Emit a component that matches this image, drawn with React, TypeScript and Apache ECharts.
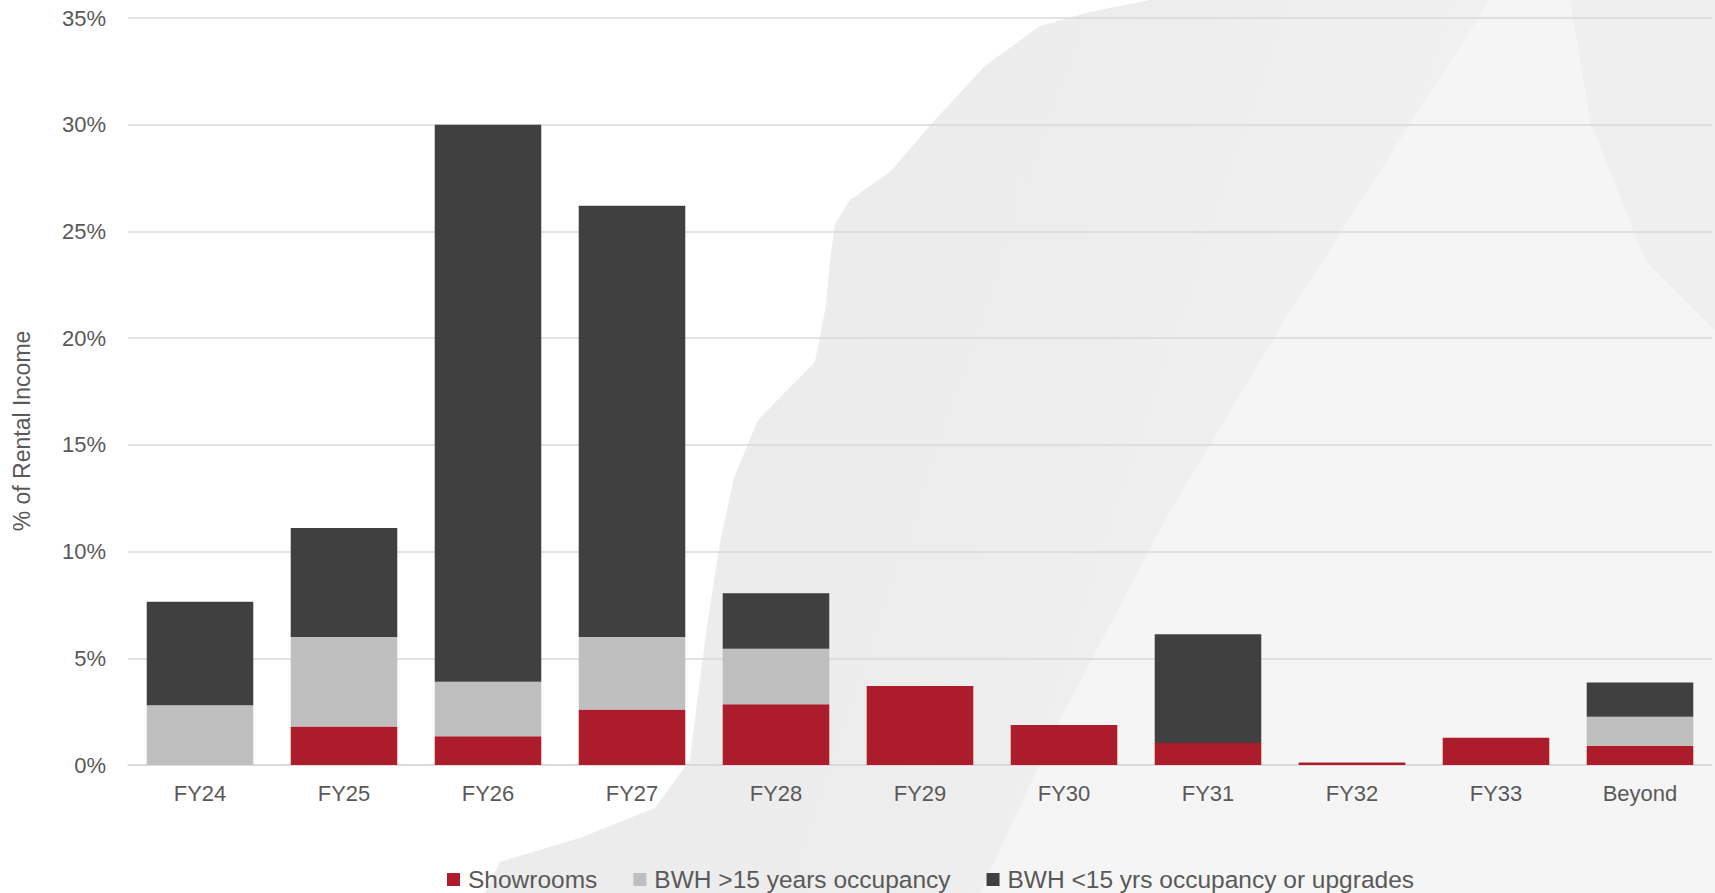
import React, { useEffect, useRef } from "react";
import * as echarts from "echarts";

const categories = ["FY24", "FY25", "FY26", "FY27", "FY28", "FY29", "FY30", "FY31", "FY32", "FY33", "Beyond"];
const showrooms = [0, 1.8, 1.35, 2.6, 2.85, 3.7, 1.87, 1.03, 0.12, 1.28, 0.9];
const bwhOver15 = [2.8, 4.2, 2.55, 3.4, 2.6, 0, 0, 0, 0, 0, 1.36];
const bwhUnder15 = [4.85, 5.1, 26.1, 20.2, 2.6, 0, 0, 5.1, 0, 0, 1.61];
const seriesNames = ["Showrooms", "BWH >15 years occupancy", "BWH <15 yrs occupancy or upgrades"];
const seriesColors = ["#ad1c2b", "#bfbfbf", "#404040"];
const yAxisTitle = "% of Rental Income";

const FONT = "'Liberation Sans', Arial, sans-serif";
const TEXT = "#595959";

export default function App() {
  const ref = useRef<HTMLDivElement>(null);
  useEffect(() => {
    document.body.style.margin = "0";
    const chart = echarts.init(ref.current!, null, { renderer: "svg" });
    const edge = [
      [1150, 0], [1090, 12], [1040, 26], [985, 66], [935, 120], [890, 172], [850, 200],
      [835, 224], [830, 262], [826, 306], [815, 362], [758, 420], [734, 478], [720, 543],
      [708, 620], [700, 680], [690, 760], [655, 808], [580, 838], [500, 862], [485, 893],
    ];
    const blotch = [...edge, [1715, 893], [1715, 0]];
    const band = [...edge, [980, 893], [1060, 720], [1165, 520], [1285, 320], [1400, 140], [1490, 0]];
    const rightBand = [[1570, 0], [1715, 0], [1715, 330], [1645, 260], [1590, 120]];
    const series = [showrooms, bwhOver15, bwhUnder15].map((d, i) => ({
      name: seriesNames[i],
      type: "bar",
      stack: "total",
      data: d,
      barWidth: "74%",
      itemStyle: { color: seriesColors[i] },
      emphasis: { disabled: true },
    }));
    chart.setOption({
      animation: false,
      backgroundColor: "#ffffff",
      grid: { left: 128, right: 3, top: 18, bottom: 128, containLabel: false },
      graphic: [
        { type: "polygon", z: -100, silent: true, shape: { points: blotch }, style: { fill: "#f5f5f5" } },
        {
          type: "polygon", z: -99, silent: true, shape: { points: band },
          style: {
            fill: {
              type: "linear", x: 0, y: 0, x2: 1, y2: 0.3,
              colorStops: [
                { offset: 0, color: "#ebebeb" },
                { offset: 0.6, color: "#ededed" },
                { offset: 1, color: "#f1f1f1" },
              ],
            },
          },
        },
        { type: "polygon", z: -99, silent: true, shape: { points: rightBand }, style: { fill: "#efefef" } },
        {
          type: "text", x: 22, y: 431, rotation: Math.PI / 2, silent: true,
          style: { text: yAxisTitle, fill: TEXT, font: `23px ${FONT}`, align: "center", verticalAlign: "middle" },
        },
      ],
      legend: {
        left: 442,
        top: 862,
        itemWidth: 13,
        itemHeight: 13,
        itemGap: 36,
        icon: "rect",
        textStyle: { color: TEXT, fontSize: 24.5, fontFamily: FONT, padding: [0, 0, 0, 3], lineHeight: 24 },
        data: seriesNames,
      },
      xAxis: {
        type: "category",
        data: categories,
        axisLine: { show: true, lineStyle: { color: "#d9d9d9", width: 1.5 } },
        axisTick: { show: false },
        axisLabel: { color: TEXT, fontSize: 22, fontFamily: FONT, margin: 17 },
      },
      yAxis: {
        type: "value",
        min: 0,
        max: 35,
        interval: 5,
        axisLine: { show: false },
        axisTick: { show: false },
        axisLabel: { color: TEXT, fontSize: 22, fontFamily: FONT, margin: 22, formatter: "{value}%" },
        splitLine: { lineStyle: { color: "#d9d9d9", width: 1.5 } },
      },
      series,
    });
    return () => chart.dispose();
  }, []);
  return <div ref={ref} style={{ width: 1715, height: 893 }} />;
}
